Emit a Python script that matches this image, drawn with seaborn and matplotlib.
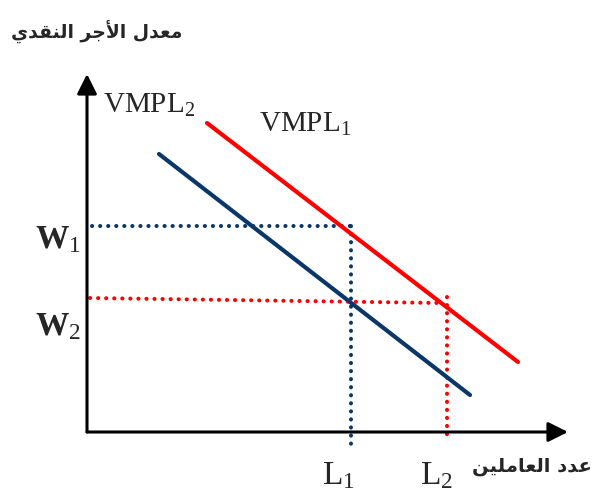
import matplotlib
matplotlib.use('Agg')
import matplotlib.pyplot as plt
import seaborn as sns

# Arabic labels, written in presentation forms (visual order), since matplotlib does no shaping
y_title = '\uFEF1\uFEAA\uFED8\uFEE8\uFEDF\uFE8D \uFEAE\uFE9F\uFEF7\uFE8D \uFEDD\uFEAA\uFECC\uFEE3'  # معدل الأجر النقدي
x_title = '\uFEE6\uFEF4\uFEE0\uFEE3\uFE8E\uFECC\uFEDF\uFE8D \uFEA9\uFEAA\uFECB'                      # عدد العاملين

# demand curves (x = workers, y = wage, in drawing units)
vmpl1_x = [120, 431]
vmpl1_y = [309, 70]
vmpl2_x = [72, 383]
vmpl2_y = [278, 37]

# equilibrium guides
w1_h_x = [5, 264]
w1_h_y = [206, 206]
l1_v_x = [264, 264]
l1_v_y = [206, -12]
w2_h_x = [3, 354]
w2_h_y = [134, 129]
l2_v_x = [360, 360]
l2_v_y = [135, -7]

# axis extents
x_axis_end = 481
y_axis_end = 358

red = '#ff0000'
navy = '#0b3768'

sns.set_style('white')
plt.rcParams['mathtext.fontset'] = 'custom'
plt.rcParams['mathtext.rm'] = 'Liberation Serif'
plt.rcParams['mathtext.it'] = 'Liberation Serif:italic'
plt.rcParams['mathtext.bf'] = 'Liberation Serif:bold'

fig = plt.figure(figsize=(5.96, 4.96), dpi=100)
ax = fig.add_axes([0, 0, 1, 1])
ax.set_xlim(-87, 596 - 87)
ax.set_ylim(432 - 496, 432)
ax.axis('off')

# axes with arrow heads
arrow = dict(arrowstyle='-|>,head_length=1.2,head_width=0.6', lw=2.2, color='black',
             mutation_scale=10, shrinkA=0, shrinkB=0)
ax.annotate('', xy=(x_axis_end, 0), xytext=(0, 0), arrowprops=arrow)
ax.annotate('', xy=(0, y_axis_end), xytext=(0, 0), arrowprops=arrow)

# dotted guides
dots = dict(lw=2.9, linestyle=(0, (0.05, 1.95)), dash_capstyle='round', estimator=None, sort=False, ax=ax)
sns.lineplot(x=w1_h_x, y=w1_h_y, color=navy, **dots)
sns.lineplot(x=l1_v_x, y=l1_v_y, color=navy, **dots)
sns.lineplot(x=w2_h_x, y=w2_h_y, color=red, **dots)
sns.lineplot(x=l2_v_x, y=l2_v_y, color=red, **dots)

# VMPL curves
sns.lineplot(x=vmpl1_x, y=vmpl1_y, color=red, lw=3, estimator=None, sort=False, ax=ax)
sns.lineplot(x=vmpl2_x, y=vmpl2_y, color=navy, lw=3, estimator=None, sort=False, ax=ax)

# labels
ax.text(16, 319, r'$\mathrm{VMPL}_2$', fontsize=21, ha='left', va='baseline')
ax.text(172, 300, r'$\mathrm{VMPL}_1$', fontsize=21, ha='left', va='baseline')
ax.text(-52, 184, r'$\mathbf{W}_1$', fontsize=24, ha='left', va='baseline')
ax.text(-52, 97, r'$\mathbf{W}_2$', fontsize=24, ha='left', va='baseline')
ax.text(235, -52, r'$\mathrm{L}_1$', fontsize=24, ha='left', va='baseline')
ax.text(333, -52, r'$\mathrm{L}_2$', fontsize=24, ha='left', va='baseline')

ax.text(10, 400, y_title, fontsize=13.5, fontweight='bold', family='DejaVu Sans', ha='center', va='center')
ax.text(445, -34, x_title, fontsize=14, fontweight='bold', family='DejaVu Sans', ha='center', va='center')

fig.savefig('out.png', dpi=100)
